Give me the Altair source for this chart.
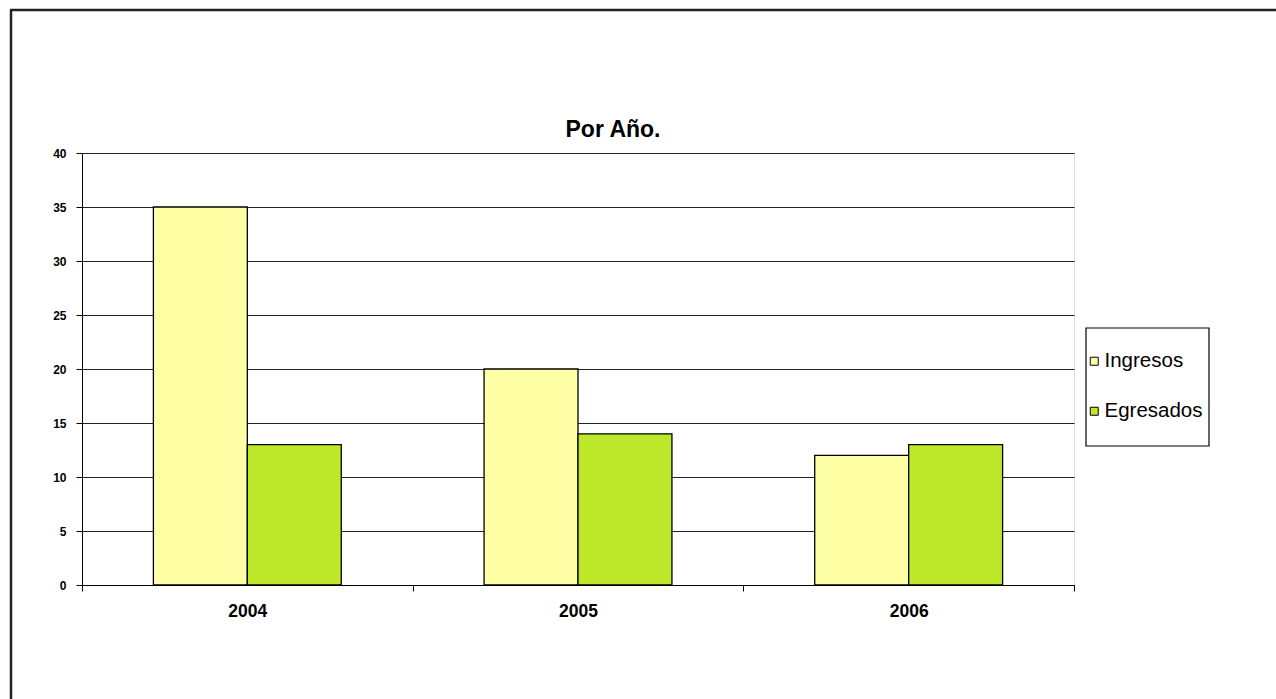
import altair as alt
import pandas as pd

years = ["2004", "2005", "2006"]
series = ["Ingresos", "Egresados"]
ingresos = [35, 20, 12]
egresados = [13, 14, 13]
colors = ["#FFFFA6", "#BDE82A"]
chart_title = "Por Año."

rows = []
for i, y in enumerate(years):
    rows.append({"Año": y, "Serie": "Ingresos", "Valor": ingresos[i]})
    rows.append({"Año": y, "Serie": "Egresados", "Valor": egresados[i]})
df = pd.DataFrame(rows)

FONT = "Liberation Sans"

bars = alt.Chart(df).mark_bar(stroke="black", strokeWidth=1.3).encode(
    x=alt.X("Año:N", sort=years, title=None,
            scale=alt.Scale(paddingInner=0, paddingOuter=0),
            axis=alt.Axis(labelAngle=0, labelFont=FONT, labelFontSize=17.5,
                          labelFontWeight="bold", labelColor="black",
                          tickBand="extent", tickSize=6, tickColor="black",
                          domainColor="black", labelPadding=11)),
    xOffset=alt.XOffset("Serie:N", sort=series,
                        scale=alt.Scale(paddingInner=0, paddingOuter=0.76)),
    y=alt.Y("Valor:Q", title=None,
            scale=alt.Scale(domain=[0, 40], nice=False),
            axis=alt.Axis(values=list(range(0, 41, 5)), labelFont=FONT,
                          labelFontSize=12, labelFontWeight="bold",
                          labelColor="black", tickSize=6, tickColor="black",
                          domainColor="black", gridColor="#222222",
                          gridWidth=1.2, labelPadding=10)),
    color=alt.Color("Serie:N", sort=series,
                    scale=alt.Scale(domain=series, range=colors),
                    legend=alt.Legend(title=None, orient="none",
                                      legendX=1002, legendY=198,
                                      symbolType="square", symbolSize=64,
                                      symbolStrokeColor="black",
                                      symbolStrokeWidth=1,
                                      labelFont=FONT, labelFontSize=20.5,
                                      labelColor="black", labelOffset=0,
                                      rowPadding=29, padding=0)),
)

frame_df = pd.DataFrame({"k": [0]})
title_df = pd.DataFrame({"t": [chart_title]})

title_mark = alt.Chart(title_df).mark_text(
    font=FONT, fontSize=23, fontWeight="bold", color="black",
    align="center", baseline="alphabetic").encode(
    text="t:N", x=alt.value(531), y=alt.value(-16))
box = alt.Chart(frame_df).mark_rect(fill="white", stroke="black",
                                    strokeWidth=1.2).encode(
    x=alt.value(1004), x2=alt.value(1127), y=alt.value(175), y2=alt.value(293))
top_line = alt.Chart(frame_df).mark_rule(color="#222222", strokeWidth=2.5).encode(
    x=alt.value(-72), x2=alt.value(1200), y=alt.value(-143))
left_line = alt.Chart(frame_df).mark_rule(color="#222222", strokeWidth=2.5).encode(
    x=alt.value(-71), y=alt.value(-143), y2=alt.value(560))

chart = alt.layer(box, bars, title_mark, top_line, left_line).properties(
    width=992, height=432,
    autosize=alt.AutoSizeParams(type="none"),
    padding={"left": 82, "top": 153, "right": 202, "bottom": 114},
).configure_view(stroke="black", strokeWidth=1.2).configure(background="white")

chart.save("out.html", embed_options={"renderer": "svg", "actions": False})
